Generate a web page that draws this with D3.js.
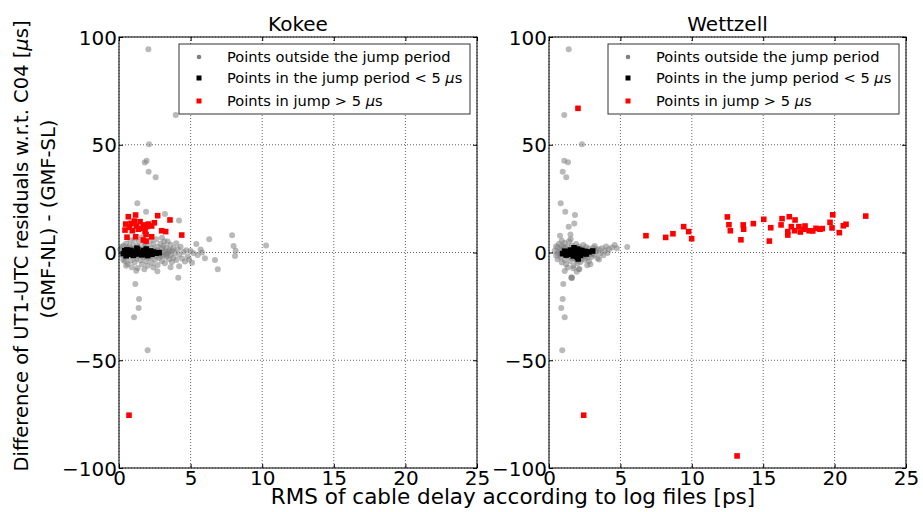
<!doctype html>
<html>
<head>
<meta charset="utf-8">
<title>UT1-UTC residual differences vs cable delay RMS</title>
<style>
  body { margin: 0; background: #fff; }
  text { font-family: "DejaVu Sans", sans-serif; fill: #000; }
</style>
</head>
<body>
<div id="chart"></div>
<script src="https://d3js.org/d3.v7.min.js"></script>
<script>
// ---- data: [RMS of cable delay (ps), difference (us)] ----
var xTicks = [0, 5, 10, 15, 20, 25];
var yTicks = [-100, -50, 0, 50, 100];
var legendLabels = ["Points outside the jump period", "Points in the jump period < 5 ", "Points in jump > 5 "];

var kokeeOutside = [
  [2.05,94.3],[3.96,63.8],[2.1,50.2],[1.8,41.8],[1.93,42.6],[2.07,37.5],[2.56,34.9],[1.28,22.8],
  [1.89,18.9],[3.21,17.9],[4.19,14.8],[3.17,5.2],[1.14,-14.6],[1.4,-21.6],[1.37,-25.8],[1.05,-30.1],
  [2.0,-45.4],[1.77,-7.8],[2.68,-8.7],[4.14,-11.7],
  [0.1,1.5],[0.2,-1.2],[0.3,3.1],[0.3,-3.4],[0.4,0.8],[0.5,-2.1],[0.5,4.2],[0.6,-5.3],[0.6,2.2],
  [0.7,-0.6],[0.8,5.6],[0.8,-3.8],[0.9,1.9],[0.9,-6.9],[1.0,3.6],[1.0,-1.8],[1.1,-4.5],[1.1,6.3],
  [1.2,0.4],[1.2,-2.9],[1.3,2.8],[1.3,-7.2],[1.4,4.9],[1.4,-0.9],[1.5,-3.6],[1.5,1.3],[1.6,7.1],
  [1.6,-5.4],[1.7,2.5],[1.7,-2.2],[1.8,-0.3],[1.8,4.4],[1.9,-4.1],[1.9,1.7],[2.0,-6.2],[2.0,3.3],
  [2.1,0.6],[2.1,-2.7],[2.2,5.4],[2.2,-1.1],[2.3,-4.9],[2.3,2.1],[2.4,-0.2],[2.4,3.9],[2.5,-3.3],
  [2.5,1.0],[2.6,-1.7],[2.6,6.2],[2.7,2.6],[2.7,-5.8],[2.8,0.3],[2.8,-2.5],[2.9,4.1],[2.9,-0.8],
  [3.0,1.8],[3.0,-3.9],[3.1,-1.4],[3.1,3.0],[3.2,0.5],[3.2,-5.0],[3.3,2.3],[3.3,-2.0],[3.4,-0.5],
  [3.4,5.1],[3.5,1.2],[3.5,-3.1],[3.6,3.6],[3.6,-1.3],[3.7,-4.4],[3.7,0.9],[3.8,2.0],[3.8,-2.4],
  [3.9,-0.1],[4.0,4.3],[4.0,-3.5],[4.1,1.5],[4.2,-1.0],[4.2,-6.4],[4.3,2.7],[4.4,-2.8],[4.5,0.2],
  [4.6,-4.2],[4.7,1.1],[4.8,-1.9],[4.9,-3.3],[5.0,0.7],[5.1,-4.7],[5.2,-0.3],[5.4,3.9],[5.5,-1.2],
  [5.7,1.4],[5.8,0.0],[6.0,-2.7],[6.3,6.1],[6.7,-3.5],[6.9,-7.8],[7.9,8.0],[8.0,3.0],[8.15,0.8],
  [8.1,-1.6],[10.27,3.2],
  [0.4,-4.0],[0.6,0.1],[0.7,2.9],[0.9,-1.2],[1.0,0.3],[1.1,1.2],[1.3,-1.5],[1.5,0.1],[1.6,-0.8],
  [1.7,0.9],[1.9,-1.6],[2.0,0.9],[2.2,-2.0],[2.3,0.8],[2.5,-0.6],[2.7,1.0],[2.9,-1.6],[3.1,0.2],
  [3.3,-0.9],[3.5,0.3],[0.2,2.6],[0.5,-6.1],[1.2,-8.5],[2.4,-7.0],[3.0,6.8],[3.6,-6.9]
];
var kokeeSmall = [
  [0.3,-0.5],[0.4,0.8],[0.5,-1.5],[0.6,0.3],[0.7,-0.9],[0.8,1.0],[0.9,-0.2],[1.0,-1.3],[1.1,0.6],
  [1.2,-0.7],[1.3,1.4],[1.4,-0.4],[1.5,0.2],[1.6,-1.1],[1.7,0.9],[1.8,-0.6],[1.9,0.4],[2.0,-1.4],
  [2.1,-0.1],[2.2,0.7],[2.3,-0.8],[2.4,0.2],[2.6,-0.3],[2.8,-0.1],[1.25,2.0],[0.55,1.2],[1.9,1.6]
];
var kokeeLarge = [
  [0.65,16.6],[1.16,17.4],[2.70,17.1],[3.56,15.1],[0.47,13.2],[0.84,13.5],[1.07,14.6],[1.47,14.3],
  [1.70,12.8],[2.05,13.2],[2.47,13.8],[0.74,11.7],[1.21,12.3],[1.54,11.2],[1.93,12.0],[2.28,12.3],
  [0.42,10.4],[0.93,10.1],[1.35,10.8],[1.82,9.7],[2.98,10.1],[3.26,9.7],[4.38,8.1],[0.56,7.1],
  [1.17,7.3],[1.89,8.4],[2.28,7.3],[1.70,5.8],[1.89,5.3],[0.7,-75.5]
];

var wettzellOutside = [
  [1.38,94.3],[1.07,63.8],[2.31,50.2],[1.07,42.6],[1.33,41.9],[0.96,37.5],[1.21,34.9],[0.82,22.8],
  [1.14,18.9],[1.82,17.4],[1.38,12.0],[1.77,13.5],[0.77,7.8],[1.5,8.3],[5.48,2.6],
  [1.0,-14.6],[0.96,-21.6],[0.86,-25.8],[1.1,-30.1],[0.93,-45.4],[1.61,-11.8],[2.12,-7.8],
  [2.68,-5.9],[1.56,-11.7],[1.7,-7.3],[1.94,-8.9],[2.1,-7.7],[1.59,-11.5],[1.52,6.1],[0.9,5.4],
  [0.4,0.8],[0.5,-1.4],[0.6,2.3],[0.6,-3.1],[0.7,0.2],[0.7,4.1],[0.8,-2.2],[0.8,1.5],[0.9,-4.6],
  [0.9,3.0],[1.0,-0.7],[1.0,1.9],[1.1,-3.5],[1.1,4.4],[1.2,0.6],[1.2,-5.5],[1.3,2.7],[1.3,-1.9],
  [1.4,-0.3],[1.4,5.2],[1.5,-4.0],[1.5,1.2],[1.6,3.3],[1.6,-2.6],[1.7,0.4],[1.7,-6.3],[1.8,2.1],
  [1.8,-1.2],[1.9,-3.8],[1.9,4.0],[2.0,0.9],[2.0,-5.0],[2.1,2.8],[2.1,-1.8],[2.2,-0.4],[2.2,-4.4],
  [2.3,1.7],[2.3,-2.9],[2.4,3.5],[2.4,-0.9],[2.5,-3.4],[2.5,1.1],[2.6,-1.5],[2.6,2.5],[2.7,0.1],
  [2.7,-2.4],[2.8,1.8],[2.8,-4.1],[2.9,-0.6],[3.0,0.9],[3.0,-2.0],[3.1,2.2],[3.2,-1.1],[3.3,0.5],
  [3.4,-2.7],[3.5,1.4],[3.6,-0.4],[3.7,2.0],[3.8,-1.3],[3.9,0.8],[4.0,2.8],[4.1,-0.2],[4.2,1.5],
  [4.4,2.3],[4.6,3.5],[4.75,2.0],[3.5,-3.3],[3.2,3.0],[2.9,-5.5],[1.3,-7.0],[1.1,-8.6],
  [0.5,2.9],[0.6,-0.4],[0.8,-0.9],[1.0,0.1],[1.1,2.4],[1.2,-1.0],[1.4,1.1],[1.5,-0.8],[1.6,0.6],
  [1.8,-2.7],[1.9,1.3],[2.0,-0.2],[2.2,1.2],[2.4,-1.9],[2.6,0.7],[2.8,-0.3],[3.0,-0.9],[3.3,1.6]
];
var wettzellSmall = [
  [0.95,-0.5],[1.1,0.6],[1.2,-1.2],[1.3,0.3],[1.4,-0.8],[1.5,1.1],[1.6,-0.2],[1.7,-1.6],[1.8,0.8],
  [1.9,-0.9],[2.0,1.6],[2.0,-2.3],[2.1,0.2],[2.2,-1.3],[2.3,0.9],[2.4,-0.4],[2.5,0.5],[2.6,-0.7],
  [2.8,0.3],[3.06,0.7],[1.75,2.2],[2.05,-3.0],[1.95,-1.8],[2.15,1.0]
];
var wettzellLarge = [
  [2.03,66.9],[6.79,7.8],[2.43,-75.5],[13.17,-94.4],
  [8.17,7.0],[8.68,8.7],[9.43,12.0],[9.78,9.7],[9.99,6.4],[12.49,16.5],[12.6,12.9],[12.7,10.1],
  [13.44,5.9],[13.6,12.8],[13.63,10.8],[14.31,13.4],[15.04,15.4],[15.43,5.3],[15.53,11.5],
  [16.25,12.8],[16.32,15.7],[16.83,16.6],[16.97,12.0],[16.72,9.7],[16.72,8.1],[17.23,15.1],
  [17.2,10.1],[17.5,12.0],[17.6,9.5],[17.93,12.3],[17.86,10.8],[18.21,10.1],[18.47,10.0],
  [18.7,11.2],[18.98,10.8],[19.14,11.1],[19.68,14.0],[19.87,17.5],[19.82,11.4],[20.33,9.2],
  [20.61,12.4],[20.8,13.1],[22.18,16.9]
];

// ---- layout ----
var W = 923, H = 512;
var svg = d3.select("#chart").append("svg").attr("width", W).attr("height", H);

var plotTop = 37, plotBottom = 468;
var panels = [
  {title: "Kokee", left: 119, right: 477, outside: kokeeOutside, small: kokeeSmall, large: kokeeLarge},
  {title: "Wettzell", left: 549, right: 906, outside: wettzellOutside, small: wettzellSmall, large: wettzellLarge}
];

var y = d3.scaleLinear().domain([-100, 100]).range([plotBottom, plotTop]);

panels.forEach(function(p) {
  var x = d3.scaleLinear().domain([0, 25]).range([p.left, p.right]);
  var g = svg.append("g");

  // grid
  g.selectAll(".vgrid").data(xTicks).enter().append("line")
    .attr("x1", function(d) { return x(d); }).attr("x2", function(d) { return x(d); })
    .attr("y1", plotTop).attr("y2", plotBottom)
    .attr("stroke", "#666").attr("stroke-width", 1).attr("stroke-dasharray", "1,2");
  g.selectAll(".hgrid").data(yTicks).enter().append("line")
    .attr("x1", p.left).attr("x2", p.right)
    .attr("y1", function(d) { return y(d); }).attr("y2", function(d) { return y(d); })
    .attr("stroke", "#666").attr("stroke-width", 1).attr("stroke-dasharray", "1,2");

  // points
  g.append("g").selectAll("circle").data(p.outside).enter().append("circle")
    .attr("cx", function(d) { return x(d[0]); })
    .attr("cy", function(d) { return y(d[1]); })
    .attr("r", 3)
    .style("fill", "#808080").style("opacity", 0.55);
  g.append("g").selectAll("rect").data(p.small).enter().append("rect")
    .attr("x", function(d) { return x(d[0]) - 2.8; })
    .attr("y", function(d) { return y(d[1]) - 2.8; })
    .attr("width", 5.6).attr("height", 5.6)
    .style("fill", "#000");
  g.append("g").selectAll("rect").data(p.large).enter().append("rect")
    .attr("x", function(d) { return x(d[0]) - 2.8; })
    .attr("y", function(d) { return y(d[1]) - 2.8; })
    .attr("width", 5.6).attr("height", 5.6)
    .style("fill", "#ff0000");

  // axes (ticks inward, on all four sides)
  var ax = g.append("g").attr("transform", "translate(0," + plotBottom + ")")
    .call(d3.axisBottom(x).tickValues(xTicks).tickSizeInner(-4).tickSizeOuter(0).tickPadding(3));
  var axT = g.append("g").attr("transform", "translate(0," + plotTop + ")")
    .call(d3.axisTop(x).tickValues(xTicks).tickSizeInner(-4).tickSizeOuter(0).tickFormat(""));
  var ay = g.append("g").attr("transform", "translate(" + p.left + ",0)")
    .call(d3.axisLeft(y).tickValues(yTicks).tickSizeInner(-4).tickSizeOuter(0).tickPadding(2));
  var ayR = g.append("g").attr("transform", "translate(" + p.right + ",0)")
    .call(d3.axisRight(y).tickValues(yTicks).tickSizeInner(-4).tickSizeOuter(0).tickFormat(""));
  [ax, axT, ay, ayR].forEach(function(a) {
    a.select(".domain").remove();
    a.selectAll("text").style("font-family", "DejaVu Sans").style("font-size", "20px").attr("fill", "#000");
  });
  ay.selectAll("text").attr("dy", "0.36em");

  g.append("rect").attr("x", p.left).attr("y", plotTop)
    .attr("width", p.right - p.left).attr("height", plotBottom - plotTop)
    .attr("fill", "none").attr("stroke", "#000").attr("stroke-width", 1);

  // title
  g.append("text").attr("x", (p.left + p.right) / 2).attr("y", 31)
    .attr("text-anchor", "middle").style("font-size", "20px").text(p.title);

  // legend
  var lx = p.right - 298, ly = 44;
  var lg = g.append("g");
  lg.append("rect").attr("x", lx).attr("y", ly).attr("width", 291).attr("height", 70)
    .attr("fill", "#fff").attr("stroke", "#333").attr("stroke-width", 1);
  var rows = [13, 34, 57];
  lg.append("circle").attr("cx", lx + 20).attr("cy", ly + rows[0]).attr("r", 2.3)
    .style("fill", "#808080");
  lg.append("rect").attr("x", lx + 17.5).attr("y", ly + rows[1] - 2.5).attr("width", 5).attr("height", 5)
    .style("fill", "#000");
  lg.append("rect").attr("x", lx + 17.5).attr("y", ly + rows[2] - 2.5).attr("width", 5).attr("height", 5)
    .style("fill", "#ff0000");
  legendLabels.forEach(function(t, i) {
    var tx = lg.append("text").attr("x", lx + 48).attr("y", ly + rows[i]).attr("dy", "0.35em")
      .style("font-size", "14.6px").text(t);
    if (i > 0) {
      tx.append("tspan").style("font-style", "italic").text("\u03bc");
      tx.append("tspan").text("s");
    }
  });
});

// shared axis labels
svg.append("text").attr("x", 513).attr("y", 504).attr("text-anchor", "middle")
  .style("font-size", "21.5px").text("RMS of cable delay according to log files [ps]");

var yl1 = svg.append("text").attr("transform", "translate(28,246) rotate(-90)")
  .attr("text-anchor", "middle").style("font-size", "19.5px")
  .text("Difference of UT1-UTC residuals w.r.t. C04 [");
yl1.append("tspan").style("font-style", "italic").text("\u03bc");
yl1.append("tspan").text("s]");
svg.append("text").attr("transform", "translate(55,219) rotate(-90)")
  .attr("text-anchor", "middle").style("font-size", "19.5px")
  .text("(GMF-NL) - (GMF-SL)");
</script>
</body>
</html>
